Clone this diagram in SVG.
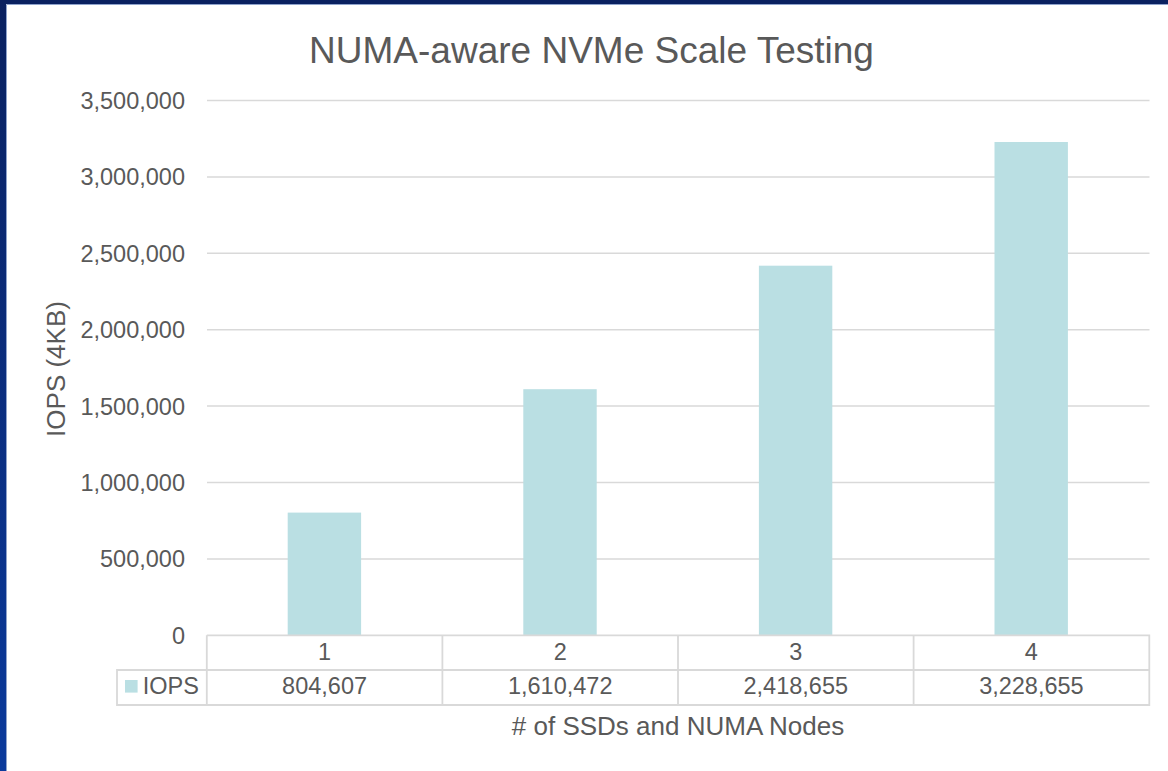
<svg xmlns="http://www.w3.org/2000/svg" width="1168" height="771" viewBox="0 0 1168 771">
<defs>
<linearGradient id="bg" x1="0" y1="0" x2="0" y2="1">
<stop offset="0" stop-color="#0a2160"/>
<stop offset="1" stop-color="#0b3a9c"/>
</linearGradient>
</defs>
<style>
text{font-family:"Liberation Sans",Arial,sans-serif;fill:#595959}
.tick{font-size:23.5px;text-anchor:end}
.cell{font-size:23.5px;text-anchor:middle}
.grid{stroke:#d9d9d9;stroke-width:1.5;fill:none}
.bar{fill:#badfe3}
.tbl{stroke:#d9d9d9;stroke-width:1.8;fill:none}
</style>
<rect x="0" y="0" width="1168" height="771" fill="url(#bg)"/>
<rect x="6" y="4" width="1162" height="767" fill="#ffffff"/>
<path d="M6.5 771V4.5H1168" stroke="#8fa3cc" stroke-width="1" fill="none"/>

<g id="title"><text x="591.5" y="63" font-size="37" text-anchor="middle">NUMA-aware NVMe Scale Testing</text></g>

<g id="gridlines">
<line class="grid" x1="207" y1="100.5" x2="1149.5" y2="100.5"/>
<line class="grid" x1="207" y1="176.9" x2="1149.5" y2="176.9"/>
<line class="grid" x1="207" y1="253.3" x2="1149.5" y2="253.3"/>
<line class="grid" x1="207" y1="329.7" x2="1149.5" y2="329.7"/>
<line class="grid" x1="207" y1="406.1" x2="1149.5" y2="406.1"/>
<line class="grid" x1="207" y1="482.5" x2="1149.5" y2="482.5"/>
<line class="grid" x1="207" y1="558.9" x2="1149.5" y2="558.9"/>
</g>

<g id="yticks">
<text class="tick" x="185" y="109">3,500,000</text>
<text class="tick" x="185" y="185.4">3,000,000</text>
<text class="tick" x="185" y="261.8">2,500,000</text>
<text class="tick" x="185" y="338.2">2,000,000</text>
<text class="tick" x="185" y="414.6">1,500,000</text>
<text class="tick" x="185" y="491">1,000,000</text>
<text class="tick" x="185" y="567.4">500,000</text>
<text class="tick" x="185" y="643.5">0</text>
</g>

<g id="bars">
<rect class="bar" x="287.7" y="512.6" width="73.4" height="122.7"/>
<rect class="bar" x="523.3" y="389.2" width="73.4" height="246.1"/>
<rect class="bar" x="758.9" y="265.7" width="73.4" height="369.6"/>
<rect class="bar" x="994.5" y="142.0" width="73.4" height="493.3"/>
</g>

<g id="table">
<path class="tbl" d="M206.8 635.3H1149.3V705H117V670H1149.3M206.8 635.3V705M442.4 635.3V705M678 635.3V705M913.6 635.3V705"/>
<rect class="bar" x="125" y="680" width="12.6" height="12.6"/>
<text x="142.7" y="694" font-size="23.5">IOPS</text>
<text class="cell" x="324.6" y="660">1</text>
<text class="cell" x="560.2" y="660">2</text>
<text class="cell" x="795.8" y="660">3</text>
<text class="cell" x="1031.4" y="660">4</text>
<text class="cell" x="324.6" y="694">804,607</text>
<text class="cell" x="560.2" y="694">1,610,472</text>
<text class="cell" x="795.8" y="694">2,418,655</text>
<text class="cell" x="1031.4" y="694">3,228,655</text>
</g>

<g id="xaxis-title"><text x="678" y="735" font-size="26" text-anchor="middle"># of SSDs and NUMA Nodes</text></g>
<g id="yaxis-title"><text transform="translate(65 369) rotate(-90)" font-size="26" text-anchor="middle">IOPS (4KB)</text></g>
</svg>
